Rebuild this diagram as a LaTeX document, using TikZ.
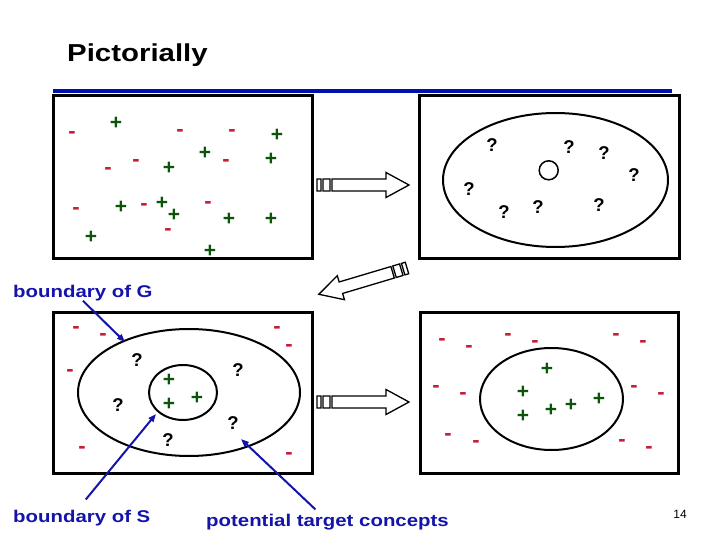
\documentclass[tikz,border=0pt]{standalone}
\usepackage{fontspec}
\setmainfont{Liberation Sans}
\newfontfamily\widesans[FakeStretch=1.2]{Liberation Sans}
\usetikzlibrary{arrows.meta, shapes.geometric}
\definecolor{cred}{HTML}{C41E3A}
\definecolor{cgreen}{HTML}{0A550A}
\definecolor{cblue}{HTML}{1414AA}
\definecolor{cbar}{HTML}{0010B0}
\tikzset{
  panel/.style={draw, line width=3pt, inner sep=0pt},
  region/.style={draw, ellipse, line width=2pt, inner sep=0pt},
  minuspt/.style={text=cred, font=\fontsize{22}{22}\selectfont\bfseries, inner sep=0pt, yshift=-2pt},
  pluspt/.style={text=cgreen, font=\fontsize{21}{21}\selectfont\bfseries, inner sep=0pt},
  quest/.style={font=\fontsize{18.5}{18.5}\selectfont\bfseries, inner sep=0pt},
  bluetext/.style={text=cblue, font=\widesans\fontsize{17}{20}\selectfont\bfseries, inner sep=0pt, anchor=base west},
  pointer/.style={-{Triangle[length=8pt, width=6pt]}, draw=cblue, line width=2pt},
  pics/stripedarrow/.style={code={
    \draw[line width=1.3pt, fill=white] (0,-6) rectangle (4,6) (6,-6) rectangle (13,6)
      (15,-6) -- (69,-6) -- (69,-12.5) -- (92,0) -- (69,12.5) -- (69,6) -- (15,6) -- cycle;
  }},
}
\begin{document}
\begin{tikzpicture}[x=1pt, y=-1pt]
  \useasboundingbox (0,0) rectangle (720,540);
  % title
  \node[font=\widesans\fontsize{24.5}{28}\selectfont\bfseries, inner sep=0pt, anchor=base west] (title) at (67,62) {Pictorially};
  \draw[cbar, line width=4pt] (53,91) -- (672,91);
  % panels
  \node[panel, minimum width=259pt, minimum height=162pt] (sample) at (182.5,177) {};
  \node[panel, minimum width=260pt, minimum height=162pt] (space) at (549,177) {};
  \node[panel, minimum width=259pt, minimum height=161pt] (bounds) at (182.5,392.5) {};
  \node[panel, minimum width=258pt, minimum height=161pt] (target) at (549,392.5) {};
  % training sample
  \foreach \x/\y [count=\i] in {72/133,180/131,232/131,108/169,136/161,226/161,76/209,144/205,208/203,168/230}
    \node[minuspt] (tln\i) at (\x,\y) {-};
  \foreach \x/\y [count=\i] in {116/123,277/135,205/153,271/159,169/168,121/207,162/203,174/215,229/219,271/219,91/237,210/251}
    \node[pluspt] (tlp\i) at (\x,\y) {+};
  % hypothesis space
  \node[region, minimum width=225pt, minimum height=134pt] (hspace) at (555.5,180) {};
  \node[draw, circle, line width=1.5pt, minimum size=19pt, inner sep=0pt] (dot) at (548.7,170.3) {};
  \foreach \x/\y [count=\i] in {492/145,569/147,604/153,634/175,469/189,504/212,538/207,599/205}
    \node[quest] (trq\i) at (\x,\y) {?};
  % arrows between panels
  \pic at (317,185) {stripedarrow};
  \pic[rotate=196.6] at (407,268) {stripedarrow};
  \pic at (317,402) {stripedarrow};
  % G and S
  \node[region, minimum width=222pt, minimum height=127pt] (gset) at (189,392.5) {};
  \node[region, minimum width=68pt, minimum height=55pt] (sset) at (183,392.5) {};
  \foreach \x/\y [count=\i] in {76/328,103/335,70/371,82/448,277/328,289/346,289/454}
    \node[minuspt] (bln\i) at (\x,\y) {-};
  \foreach \x/\y [count=\i] in {137/360,238/370,118/405,233/423,168/440}
    \node[quest] (blq\i) at (\x,\y) {?};
  \foreach \x/\y [count=\i] in {169/380,169/404,197/398}
    \node[pluspt] (blp\i) at (\x,\y) {+};
  % target concept
  \node[region, minimum width=143pt, minimum height=102pt] (concept) at (551.5,399) {};
  \foreach \x/\y [count=\i] in {547/369,523/392,523/416,551/410,571/405,599/399}
    \node[pluspt] (brp\i) at (\x,\y) {+};
  \foreach \x/\y [count=\i] in {442/340,469/347,508/335,535/342,616/335,643/342,436/387,463/394,634/387,661/394,448/435,476/442,622/441,649/448}
    \node[minuspt] (brn\i) at (\x,\y) {-};
  % labels
  \node[bluetext] (gLabel) at (13,297) {boundary of G};
  \node[bluetext] (sLabel) at (13,522) {boundary of S};
  \node[bluetext] (pLabel) at (206,526) {potential target concepts};
  \coordinate (gtip) at (125,342);
  \coordinate (stip) at (156,414);
  \coordinate (ptip) at (241,439);
  \draw[pointer] (gLabel.south) -- (gtip);
  \draw[pointer] ([xshift=4pt, yshift=10pt]sLabel.north) -- (stip);
  \draw[pointer] ([xshift=-12pt, yshift=4pt]pLabel.north) -- (ptip);
  \node[font=\fontsize{12}{12}\selectfont] (pagenum) at (680,514) {14};
\end{tikzpicture}
\end{document}
